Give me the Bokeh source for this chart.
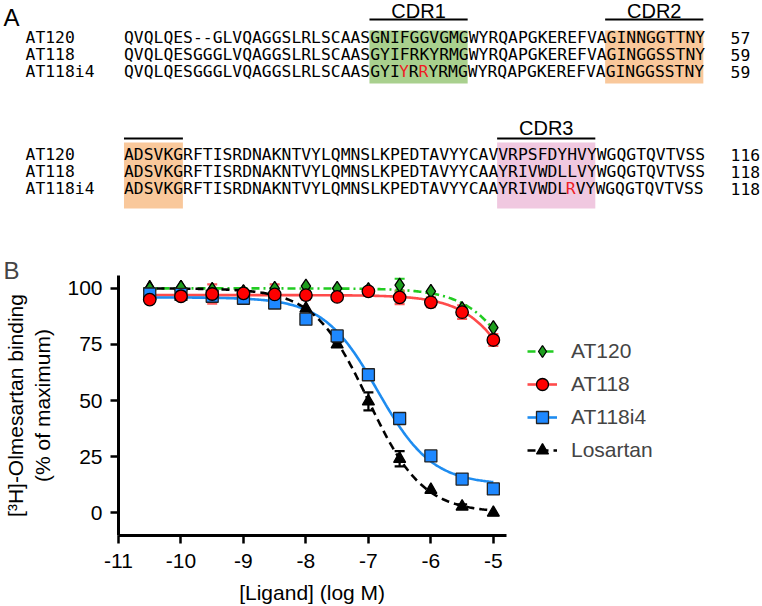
import numpy as np
from bokeh.plotting import figure
from bokeh.models import (Range1d, ColumnDataSource, Legend, LegendItem, LinearAxis,
                          FixedTicker, Whisker, TeeHead)
from bokeh.layouts import column
from bokeh.embed import file_html
from bokeh.resources import INLINE
from bokeh.core.properties import value

# ---------------- Panel A data ----------------
names = ["AT120", "AT118", "AT118i4"]
block1 = ["QVQLQES--GLVQAGGSLRLSCAASGNIFGGVGMGWYRQAPGKEREFVAGINNGGTTNY",
          "QVQLQESGGGLVQAGGSLRLSCAASGYIFRKYRMGWYRQAPGKEREFVAGINGGSSTNY",
          "QVQLQESGGGLVQAGGSLRLSCAASGYIYRRYRMGWYRQAPGKEREFVAGINGGSSTNY"]
block2 = ["ADSVKGRFTISRDNAKNTVYLQMNSLKPEDTAVYYCAVVRPSFDYHVYWGQGTQVTVSS",
          "ADSVKGRFTISRDNAKNTVYLQMNSLKPEDTAVYYCAAYRIVWDLLVYWGQGTQVTVSS",
          "ADSVKGRFTISRDNAKNTVYLQMNSLKPEDTAVYYCAAYRIVWDLRVYWGQGTQVTVSS"]
end1 = ["57", "59", "59"]
end2 = ["116", "118", "118"]
red1 = [[], [], [28, 30]]
red2 = [[], [], [45]]
cdr_block = [1, 1, 2, 2]
cdr_start = [25, 49, 0, 38]
cdr_end = [35, 59, 6, 48]
cdr_label = ["CDR1", "CDR2", "", "CDR3"]
cdr_color = ["#A9D08E", "#F9C89B", "#F9C89B", "#F0C8E0"]

# ---------------- Panel B data ----------------
log_conc = [-10.5, -10.0, -9.5, -9.0, -8.5, -8.0, -7.5, -7.0, -6.5, -6.0, -5.5, -5.0]
at120 = [100.0, 100.5, 99.5, 98.5, 100.0, 101.0, 100.0, 99.5, 101.5, 98.7, 91.0, 82.5]
at120_err = [0, 0, 0, 0, 0, 0, 0, 0, 2.8, 0, 0, 0]
at118 = [95.0, 96.5, 97.5, 97.8, 97.3, 97.0, 96.2, 98.7, 96.0, 93.8, 89.4, 77.0]
at118_err = [0, 0, 4.3, 0, 4.5, 2.0, 0, 0, 3.0, 2.2, 3.0, 2.6]
at118i4 = [97.5, 97.3, 96.5, 95.6, 93.5, 86.3, 78.8, 61.5, 42.0, 25.3, 15.0, 10.6]
at118i4_err = [0, 0, 0, 0, 0, 0, 0, 0, 0, 0, 0, 0]
losartan = [100.5, 100.5, 99.5, 98.5, 98.0, 91.0, 75.0, 49.6, 24.0, 10.2, 2.7, 0.0]
losartan_err = [0, 0, 0, 0, 0, 0, 1.0, 4.0, 3.4, 0, 1.0, 0]

# sigmoidal (4-parameter logistic) fit parameters
fit_top = [100.0, 97.0, 96.0, 100.0]
fit_bottom = [0.0, 0.0, 12.5, 0.0]
fit_logic50 = [-4.35, -4.4, -6.85, -7.0]
fit_hill = [1.0, 1.0, 1.0, 1.0]

series_names = ["AT120", "AT118", "AT118i4", "Losartan"]
x_ticks = [-11, -10, -9, -8, -7, -6, -5]
y_ticks = [0, 25, 50, 75, 100]

FONT = "Liberation Sans"
MONO = "DejaVu Sans Mono"
NB = "\u00a0"

W = 762
HA = 232
HB = 374
LEFT = 116  # frame left edge shared by both panels (column aligns frames)

# ================= Panel A =================
pA = figure(width=W, height=HA, x_range=Range1d(LEFT, W), y_range=Range1d(HA, 0),
            output_backend="svg", toolbar_location=None, x_axis_type=None, y_axis_type=None,
            min_border_left=LEFT, min_border_right=0, min_border_top=0, min_border_bottom=0)
pA.grid.visible = False
pA.outline_line_color = None

X0 = 121.5
CW = 9.85
MONO_SIZE = "16.36px"
mid1 = [37.0, 54.0, 71.0]      # vertical centres of the text rows
mid2 = [154.0, 171.0, 188.0]
box_top = {1: 30, 2: 142}
box_bot = {1: 83, 2: 208}
over_y = {1: 19, 2: 138}
lab_mid = {1: 10, 2: 127}

for i in range(len(cdr_start)):
    b = cdr_block[i]
    l = X0 + cdr_start[i] * CW
    r = X0 + cdr_end[i] * CW
    pA.quad(left=[l], right=[r], top=[box_top[b]], bottom=[box_bot[b]],
            fill_color=cdr_color[i], line_color=None)
    pA.segment(x0=[l], x1=[r], y0=[over_y[b]], y1=[over_y[b]], line_color="black", line_width=2)
    if cdr_label[i]:
        pA.text(x=[(l + r) / 2], y=[lab_mid[b]], text=[cdr_label[i]], text_align="center",
                text_baseline="middle", text_font=value(FONT), text_font_size="20px",
                text_color="black")


def runs(seq, reds):
    out = []
    cur, start, curc = "", 0, None
    for i, ch in enumerate(seq):
        c = "#EE1C25" if i in reds else "black"
        if cur and c != curc:
            out.append((start, cur, curc))
            cur = ""
        if not cur:
            start = i
        cur += ch
        curc = c
    out.append((start, cur, curc))
    return out


name_ticks = []
name_labels = {}
for blk, seqs, reds, ends, mids in [(1, block1, red1, end1, mid1), (2, block2, red2, end2, mid2)]:
    for k in range(3):
        name_ticks.append(mids[k])
        name_labels[mids[k]] = names[k] + NB * (7 - len(names[k]))
        for (c0, txt, col) in runs(seqs[k], reds[k]):
            pA.text(x=[X0 + c0 * CW], y=[mids[k]], text=[txt], text_font=value(MONO),
                    text_font_size=MONO_SIZE, text_baseline="middle", text_align="left",
                    text_color=col)
        pA.text(x=[730], y=[mids[k]], text=[ends[k]], text_font=value(MONO),
                text_font_size=MONO_SIZE, text_baseline="middle", text_align="left")


def bare_axis(ticks, labels, font, size, standoff):
    return LinearAxis(ticker=FixedTicker(ticks=ticks), major_label_overrides=labels,
                      axis_line_color=None, major_tick_line_color=None,
                      minor_tick_line_color=None, major_tick_out=0, major_tick_in=0,
                      minor_tick_out=0, minor_tick_in=0, major_label_standoff=standoff,
                      major_label_text_font=font, major_label_text_font_size=size,
                      major_label_text_color="black")


pA.add_layout(bare_axis(name_ticks, name_labels, MONO, MONO_SIZE, 24), "left")
pA.add_layout(bare_axis([16.5], {16.5: "A"}, FONT, "24px", 3), "left")

# ================= Panel B =================
XPX = 62.67          # pixels per log unit
YPX = 2.26           # pixels per % unit
TOPB = 275 - HA      # frame top inside panel B
BOTB = HA + HB - 537 # frame bottom border
frame_w = W - LEFT
frame_h = HB - TOPB - BOTB
XMAX = -11 + frame_w / XPX
YMIN = (514 - 537) / YPX
YMAX = YMIN + frame_h / YPX

pB = figure(width=W, height=HB, x_range=Range1d(-11, XMAX), y_range=Range1d(YMIN, YMAX),
            output_backend="svg", toolbar_location=None, title="B",
            min_border_left=LEFT, min_border_right=0, min_border_top=TOPB, min_border_bottom=BOTB)
pB.grid.visible = False
pB.outline_line_color = None
pB.title.text_font = FONT
pB.title.text_font_size = "24px"
pB.title.text_font_style = "normal"
pB.title.align = "left"
pB.title.offset = 1 - LEFT
pB.title.standoff = -16

for ax in (pB.xaxis[0], pB.yaxis[0]):
    ax.axis_line_width = 3
    ax.axis_line_color = "black"
    ax.major_tick_line_width = 2.5
    ax.major_tick_line_color = "black"
    ax.major_tick_out = 8
    ax.major_tick_in = 0
    ax.minor_tick_out = 0
    ax.minor_tick_in = 0
    ax.major_label_text_font = FONT
    ax.major_label_text_font_size = "21px"
    ax.major_label_text_color = "black"
    ax.axis_label_text_font = FONT
    ax.axis_label_text_font_size = "21px"
    ax.axis_label_text_font_style = "normal"
    ax.axis_label_text_color = "black"

pB.xaxis[0].ticker = FixedTicker(ticks=x_ticks)
pB.xaxis[0].major_label_overrides = {t: str(t) for t in x_ticks}
pB.xaxis[0].bounds = (-11, -4.79)
pB.xaxis[0].major_label_standoff = 10
pB.xaxis[0].axis_label = "[Ligand] (log M)" + NB * 44
pB.xaxis[0].axis_label_standoff = 10
pB.yaxis[0].ticker = FixedTicker(ticks=y_ticks)
pB.yaxis[0].major_label_standoff = 8
pB.yaxis[0].axis_label = "[\u00b3H]-Olmesartan binding\n(% of maximum)"
pB.yaxis[0].axis_label_standoff = 10

colors_line = ["#22CC22", "#FF4B4B", "#1E8CF0", "black"]
dashes = ["8 4 2 4", "solid", "solid", "8 5"]
m_fill = ["#1E9E1E", "#FF0000", "#1E88FF", "black"]
m_line = ["black", "black", "#222222", "black"]
m_marker = ["diamond", "circle", "square", "triangle"]
m_size = [14, 12.5, 12, 12]
err_color = ["#22CC22", "#FF5A5A", "#1E8CF0", "black"]
ys_all = [at120, at118, at118i4, losartan]
err_all = [at120_err, at118_err, at118i4_err, losartan_err]

xs = np.linspace(-10.6, -5.0, 300)
line_r = []
for i in range(4):
    curve = fit_bottom[i] + (fit_top[i] - fit_bottom[i]) / (1 + 10 ** ((xs - fit_logic50[i]) * fit_hill[i]))
    line_r.append(pB.line(xs, curve, line_color=colors_line[i], line_width=2.6, line_dash=dashes[i]))

for i in range(4):
    ex = [x for x, e in zip(log_conc, err_all[i]) if e > 0]
    ey = [y for y, e in zip(ys_all[i], err_all[i]) if e > 0]
    ee = [e for e in err_all[i] if e > 0]
    if ex:
        src = ColumnDataSource(dict(x=ex, upper=[a + b for a, b in zip(ey, ee)],
                                    lower=[a - b for a, b in zip(ey, ee)]))
        w = Whisker(base="x", upper="upper", lower="lower", source=src,
                    line_color=err_color[i], line_width=2.2,
                    upper_head=TeeHead(size=10, line_color=err_color[i], line_width=2.2),
                    lower_head=TeeHead(size=10, line_color=err_color[i], line_width=2.2))
        pB.add_layout(w)

order = [3, 0, 2, 1]
scat_map = {}
for i in order:
    scat_map[i] = pB.scatter(log_conc, ys_all[i], marker=m_marker[i], size=m_size[i],
                             fill_color=m_fill[i], line_color=m_line[i], line_width=1.3)

legend = Legend(items=[LegendItem(label=series_names[i], renderers=[line_r[i], scat_map[i]])
                       for i in range(4)],
                location=(525 - LEFT, 537 - 467), glyph_width=30, glyph_height=30, spacing=3,
                label_standoff=14, label_text_font=FONT, label_text_font_size="21px",
                label_text_baseline="middle", label_height=30,
                border_line_color=None, background_fill_alpha=0, padding=0, margin=0)
pB.add_layout(legend)

layout = column(pA, pB)
open("out.html", "w").write(file_html(layout, INLINE))
